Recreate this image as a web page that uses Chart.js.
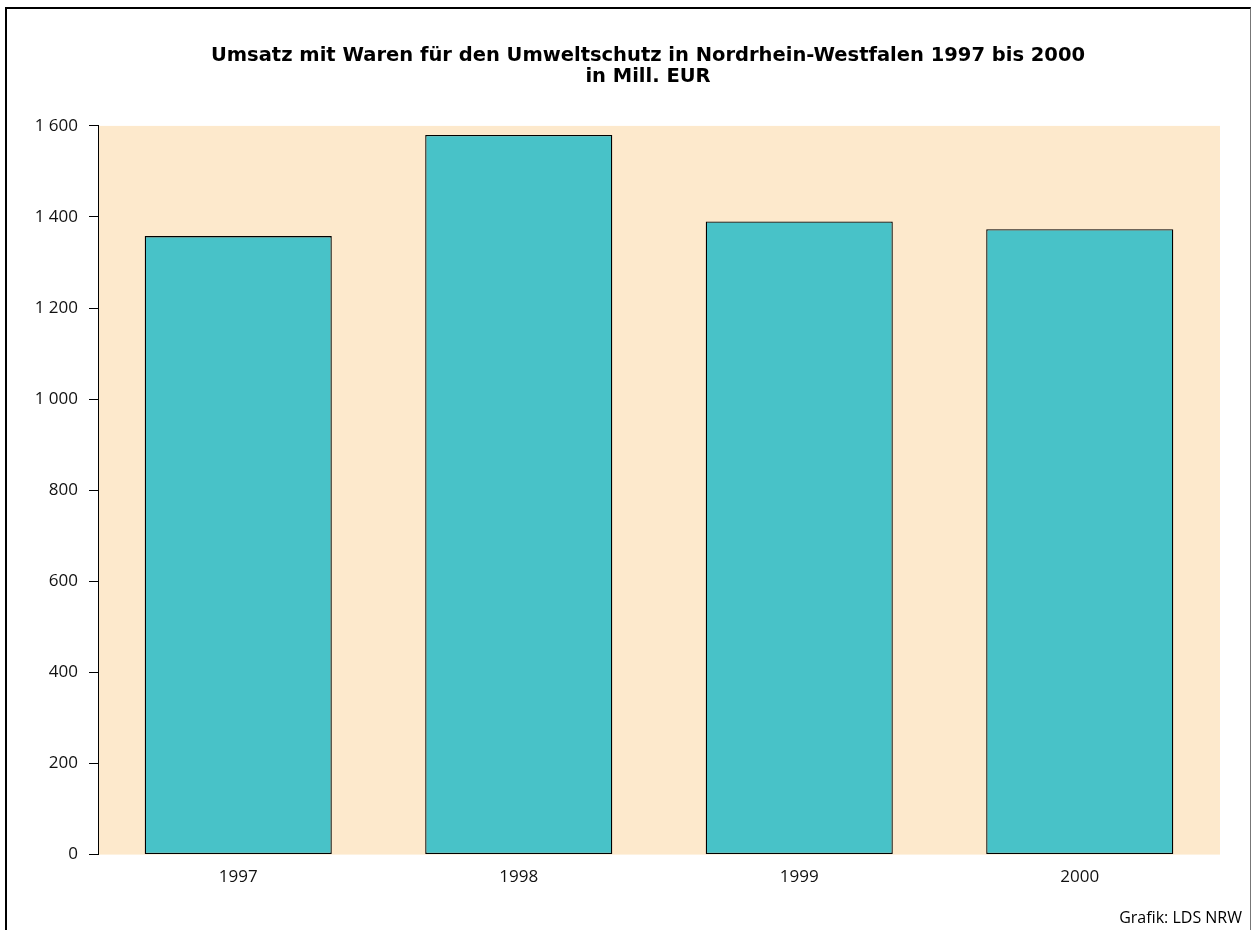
<!DOCTYPE html>
<html>
<head>
  <title>Umsatz Umweltschutz NRW</title>
  <script src="https://cdn.jsdelivr.net/npm/chart.js"></script>
  <style>
    body { margin: 0; background: #fff; }
    #frame { position: absolute; left: 5px; top: 7px; width: 1243px; height: 940px;
             border-top: 2px solid #000; border-left: 2px solid #000; border-right: 1px solid #777; }
    #wrap { position: absolute; left: 0; top: 0; width: 1252px; height: 930px; }
  </style>
</head>
<body>
  <div id="frame"></div>
  <div id="wrap"><canvas id="chart" width="1252" height="930"></canvas></div>
  <script>
    const years = ['1997', '1998', '1999', '2000'];
    const umsatz = [1358, 1580, 1390, 1373];
    const yTicks = [0, 200, 400, 600, 800, 1000, 1200, 1400, 1600];
    const credit = 'Grafik: LDS NRW';

    const ctx = document.getElementById('chart').getContext('2d');

    // beige plot background, title nudge, source note bottom right
    const extras = {
      id: 'extras',
      afterLayout(chart) {
        // title in the original sits a bit right of the canvas centre
        if (chart.titleBlock) chart.titleBlock.left += 76;
      },
      beforeDraw(chart) {
        const a = chart.chartArea;
        const c = chart.ctx;
        c.save();
        c.fillStyle = '#FDE9CC';
        c.fillRect(a.left, a.top, a.right - a.left, a.bottom - a.top);
        c.restore();
      },
      afterDraw(chart) {
        const c = chart.ctx;
        c.save();
        c.font = '16px "Open Sans"';
        c.fillStyle = '#000';
        c.textAlign = 'right';
        c.textBaseline = 'middle';
        c.fillText(credit, chart.width - 10, 918);
        c.restore();
      }
    };

    new Chart(ctx, {
      type: 'bar',
      data: {
        labels: years,
        datasets: [{
          data: umsatz,
          backgroundColor: '#48C2C8',
          borderColor: '#000',
          borderWidth: 1.3,
          borderSkipped: false,
          categoryPercentage: 0.667,
          barPercentage: 1
        }]
      },
      options: {
        responsive: false,
        animation: false,
        layout: { padding: { left: 0, right: 32, top: 45, bottom: 39 } },
        plugins: {
          legend: { display: false },
          tooltip: { enabled: false },
          title: {
            display: true,
            text: ['Umsatz mit Waren für den Umweltschutz in Nordrhein-Westfalen 1997 bis 2000', 'in Mill. EUR'],
            color: '#000',
            font: { family: 'DejaVu Sans', size: 19.5, weight: 'bold', lineHeight: 1.1 },
            padding: { top: 0, bottom: 38 }
          }
        },
        scales: {
          x: {
            grid: { display: false },
            border: { display: false },
            ticks: { color: '#111', font: { family: 'Open Sans', size: 17 }, padding: 4 }
          },
          y: {
            min: 0,
            max: 1600,
            afterFit(scale) { scale.width = 98; },
            afterBuildTicks(scale) { scale.ticks = yTicks.map(v => ({ value: v })); },
            border: { display: true, color: '#000', width: 1 },
            grid: { drawOnChartArea: false, color: '#000', tickLength: 9 },
            ticks: {
              color: '#111',
              font: { family: 'Open Sans', size: 17 },
              padding: 11,
              callback: v => String(v).replace(/\B(?=(\d{3})+(?!\d))/g, ' ')
            }
          }
        }
      },
      plugins: [extras]
    });
  </script>
</body>
</html>
